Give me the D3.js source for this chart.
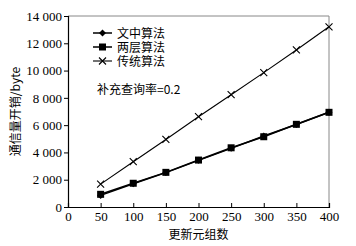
<!DOCTYPE html>
<html><head><meta charset="utf-8">
<script src="https://cdn.jsdelivr.net/npm/d3@7"></script>
<style>body{margin:0;background:#fff}svg{display:block}</style>
</head><body>
<script>
const xValues = [50, 100, 150, 200, 250, 300, 350, 400];
const seriesNames = ["文中算法", "两层算法", "传统算法"];
const textAlgo = [850, 1700, 2520, 3420, 4300, 5200, 6050, 6950];
const twoLayer = [930, 1740, 2540, 3440, 4340, 5150, 6060, 6940];
const traditional = [1680, 3320, 4950, 6620, 8230, 9850, 11510, 13210];
const xTicks = [0, 50, 100, 150, 200, 250, 300, 350, 400];
const yTicks = [0, 2000, 4000, 6000, 8000, 10000, 12000, 14000];
const note = "补充查询率=0.2";
const xTitle = "更新元组数";
const yTitle = "通信量开销/byte";

const W = 356, H = 246;
const m = {l: 68, r: 27, t: 16, b: 39};
const svg = d3.select("body").append("svg").attr("width", W).attr("height", H);
const x = d3.scaleLinear().domain([0, 400]).range([m.l, W - m.r]);
const y = d3.scaleLinear().domain([0, 14000]).range([H - m.b, m.t]);
const numFont = "'Liberation Serif', 'DejaVu Serif', serif";
const cjkFont = "'Noto Sans CJK SC', sans-serif";
const fmt = d => d === 0 ? "0" : d3.format(",")(d).replace(/,/g, " ");

svg.append("path")
  .attr("d", `M${x(0)},${y(14000)}H${x(400)}V${y(0)}`)
  .attr("fill", "none").attr("stroke", "#888").attr("stroke-width", 1);

const gx = svg.append("g").attr("transform", `translate(0,${y(0)})`)
  .call(d3.axisBottom(x).tickValues(xTicks).tickSize(-4).tickPadding(5).tickFormat(d3.format("d")));
const gy = svg.append("g").attr("transform", `translate(${x(0)},0)`)
  .call(d3.axisLeft(y).tickValues(yTicks).tickSize(4).tickPadding(2).tickFormat(fmt));
[gx, gy].forEach(g => {
  g.attr("font-family", null).attr("font-size", null);
  g.select(".domain").attr("stroke", "#000").attr("stroke-width", 1.2);
  g.selectAll(".tick line").attr("stroke", "#000");
  g.selectAll("text").style("font-family", numFont).style("font-size", "13px").attr("fill", "#000");
});
gx.selectAll(".tick").filter(d => d === 0 || d === 400).select("line").remove();

const line = d3.line().x((d, i) => x(xValues[i])).y(d => y(d));
const data = [textAlgo, twoLayer, traditional];
const types = ["diamond", "square", "cross"];

function marker(g, type, cx, cy) {
  if (type === "square") {
    g.append("rect").attr("x", cx - 3.5).attr("y", cy - 3.5).attr("width", 7).attr("height", 7).attr("fill", "#000");
  } else if (type === "diamond") {
    g.append("path").attr("d", `M${cx},${cy-3.5}L${cx+3.5},${cy}L${cx},${cy+3.5}L${cx-3.5},${cy}Z`).attr("fill", "#000");
  } else {
    g.append("path").attr("d", `M${cx-3.5},${cy-3.5}L${cx+3.5},${cy+3.5}M${cx-3.5},${cy+3.5}L${cx+3.5},${cy-3.5}`)
      .attr("stroke", "#000").attr("stroke-width", 1.1);
  }
}

data.forEach((s, k) => {
  svg.append("path").datum(s).attr("d", line).attr("fill", "none")
    .attr("stroke", "#000").attr("stroke-width", k === 2 ? 1.1 : 1.5);
  const g = svg.append("g");
  s.forEach((v, i) => marker(g, types[k], x(xValues[i]), y(v)));
});

const lg = svg.append("g");
seriesNames.forEach((n, i) => {
  const ly = 33 + i * 14;
  lg.append("line").attr("x1", 93).attr("x2", 112).attr("y1", ly).attr("y2", ly)
    .attr("stroke", "#000").attr("stroke-width", i === 2 ? 1.1 : 1.5);
  marker(lg, types[i], 102.5, ly);
  lg.append("text").attr("x", 117).attr("y", ly + 4.5).text(n)
    .style("font-family", cjkFont).style("font-size", "12px").attr("fill", "#000");
});
svg.append("text").attr("x", 97).attr("y", 93.5).text(note)
  .style("font-family", cjkFont).style("font-size", "12px").attr("fill", "#000");

svg.append("text").attr("x", x(200)).attr("y", 239).attr("text-anchor", "middle").text(xTitle)
  .style("font-family", cjkFont).style("font-size", "12px").attr("fill", "#000");
svg.append("text").attr("transform", `translate(20,${y(7000)}) rotate(-90)`).attr("text-anchor", "middle").text(yTitle)
  .style("font-family", cjkFont).style("font-size", "12px").attr("fill", "#000");
</script>
</body></html>
